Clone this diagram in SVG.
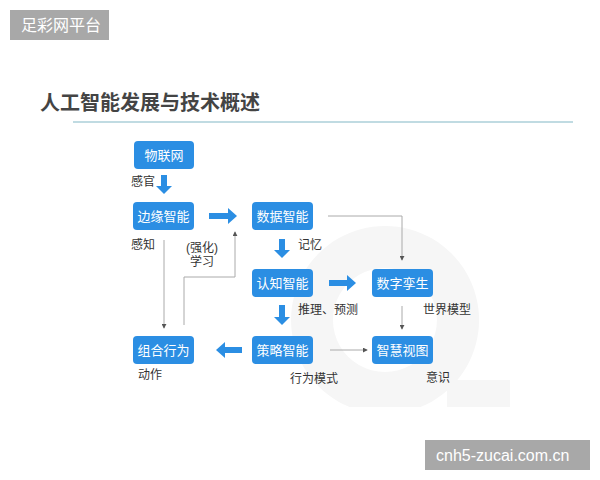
<svg xmlns="http://www.w3.org/2000/svg" width="600" height="480" viewBox="0 0 600 480">
<style>
.node rect{fill:#2b8ee3}
.node text{fill:#ffffff;font-family:"Liberation Sans","Noto Sans CJK SC",sans-serif;font-size:13px;text-anchor:middle;dominant-baseline:central}
.lbl{fill:#333333;font-family:"Liberation Sans","Noto Sans CJK SC",sans-serif;font-size:12px;dominant-baseline:central}
.thick{fill:#2b8ee3}
.thin{fill:none;stroke:#aaaaaa;stroke-width:1;marker-end:url(#ah)}
.tag rect{fill:#a8a8a8}
.tag text{fill:#ffffff;font-family:"Liberation Sans","Noto Sans CJK SC",sans-serif;font-size:16px;dominant-baseline:central}
</style>
<defs>
<marker id="ah" viewBox="0 0 6 6" refX="5" refY="3" markerWidth="5" markerHeight="5" orient="auto" markerUnits="userSpaceOnUse">
<path d="M0,0 L6,3 L0,6 z" fill="#555555"/>
</marker>
<clipPath id="wm"><rect x="0" y="0" width="600" height="407"/></clipPath>
</defs>
<rect width="600" height="480" fill="#ffffff"/>
<g id="watermark" clip-path="url(#wm)" fill="#f6f6f6">
<path d="M385,226 a94,94 0 1,0 0.1,0 z M385,268 a52,52 0 1,1 -0.1,0 z" fill-rule="evenodd"/>
<polygon points="447,380 510,380 510,407 447,407"/>
</g>
<g id="tag-top" class="tag"><rect x="10" y="10" width="99" height="30"/><text x="21" y="25">足彩网平台</text></g>
<text x="40" y="103" font-family="'Liberation Sans','Noto Sans CJK SC',sans-serif" font-size="20" font-weight="bold" fill="#444444" dominant-baseline="central">人工智能发展与技术概述</text>
<line x1="73" y1="122" x2="573" y2="122" stroke="#82b8c6" stroke-width="1.2"/>
<g id="connectors">
<path class="thick" d="M161,175 h6 v11 h5 l-8,8 l-8,-8 h5 z"/>
<path class="thick" d="M209,213 h19 v-5 l9,8 l-9,8 v-5 h-19 z"/>
<path class="thick" d="M279,239 h6 v11 h5 l-8,8 l-8,-8 h5 z"/>
<path class="thick" d="M329,280 h18 v-5 l9,8 l-9,8 v-5 h-18 z"/>
<path class="thick" d="M279,305 h6 v12 h5 l-8,8 l-8,-8 h5 z"/>
<path class="thick" d="M242,347 h-17 v-5 l-9,8 l9,8 v-5 h17 z"/>
<path class="thin" d="M164,240 V328"/>
<path class="thin" d="M184,325 V277 H235 V232"/>
<path class="thin" d="M328,216 H402 V260"/>
<path class="thin" d="M402,306 V329"/>
<path class="thin" d="M330,350 H367"/>
</g>
<g id="n-wlw" class="node"><rect x="134" y="141" width="60" height="28" rx="4"/><text x="164" y="155">物联网</text></g>
<g id="n-byzn" class="node"><rect x="133" y="202" width="61" height="28" rx="4"/><text x="163.5" y="216">边缘智能</text></g>
<g id="n-sjzn" class="node"><rect x="252" y="202" width="61" height="28" rx="4"/><text x="282.5" y="216">数据智能</text></g>
<g id="n-rzzn" class="node"><rect x="252" y="269" width="61" height="28" rx="4"/><text x="282.5" y="283">认知智能</text></g>
<g id="n-szls" class="node"><rect x="372" y="269" width="61" height="28" rx="4"/><text x="402.5" y="283">数字孪生</text></g>
<g id="n-clzn" class="node"><rect x="252" y="336" width="61" height="28" rx="4"/><text x="282.5" y="350">策略智能</text></g>
<g id="n-zhst" class="node"><rect x="372" y="336" width="61" height="28" rx="4"/><text x="402.5" y="350">智慧视图</text></g>
<g id="n-zhxw" class="node"><rect x="133" y="336" width="61" height="28" rx="4"/><text x="163.5" y="350">组合行为</text></g>
<g id="labels">
<text class="lbl" x="131" y="182">感官</text>
<text class="lbl" x="131" y="245">感知</text>
<text class="lbl" x="186" y="248">(强化)</text>
<text class="lbl" x="190" y="262">学习</text>
<text class="lbl" x="298" y="245">记忆</text>
<text class="lbl" x="298" y="310">推理、预测</text>
<text class="lbl" x="423" y="310">世界模型</text>
<text class="lbl" x="138" y="375">动作</text>
<text class="lbl" x="290" y="379">行为模式</text>
<text class="lbl" x="426" y="378">意识</text>
</g>
<g id="tag-bottom" class="tag"><rect x="425" y="440" width="165" height="30"/><text x="436" y="455">cnh5-zucai.com.cn</text></g>
</svg>
